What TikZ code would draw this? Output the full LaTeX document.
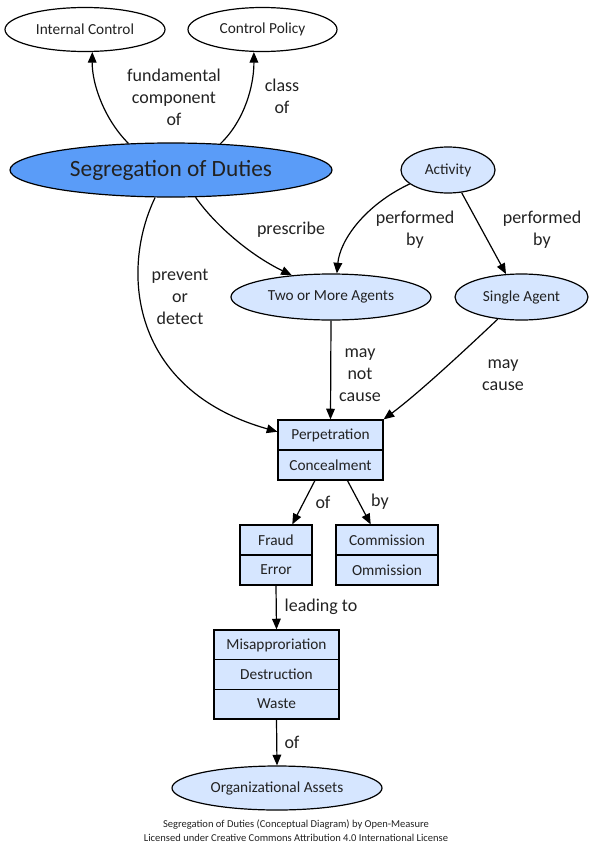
\documentclass[tikz,border=0pt]{standalone}
\usepackage{fontspec}
\setmainfont{Carlito}
\usetikzlibrary{shapes.geometric,arrows.meta,calc}
\definecolor{seg}{HTML}{5A9CF8}
\definecolor{lite}{HTML}{D6E6FF}
\definecolor{txt}{HTML}{222222}
\begin{document}
\begin{tikzpicture}[x=0.75pt,y=-0.75pt,
  every node/.style={text=txt},
  oval/.style={ellipse,draw,line width=0.9pt,inner sep=0pt,font=\fontsize{11.5}{13}\selectfont},
  recbox/.style={rectangle,draw,line width=0.9pt,fill=lite,inner sep=0pt},
  celltext/.style={font=\fontsize{11.5}{13}\selectfont,inner sep=0pt},
  elabel/.style={align=center,font=\fontsize{13.5}{16.5}\selectfont,inner sep=0pt},
  conn/.style={line width=0.9pt,-{Triangle[length=8pt,width=6.5pt]}},
  divider/.style={line width=0.9pt}]
\useasboundingbox (0,0) rectangle (595,853);
% nodes
\node[oval,fill=white,minimum width=120pt,minimum height=33pt] (ic) at (85,29.5) {Internal Control};
\node[oval,fill=white,minimum width=111.75pt,minimum height=33pt] (cp) at (262.5,29.5) {Control Policy};
\node[oval,fill=seg,minimum width=241.5pt,minimum height=40.5pt,font=\fontsize{17.5}{20}\selectfont] (seg) at (171,170) {Segregation of Duties};
\node[oval,fill=lite,minimum width=70.5pt,minimum height=34.5pt] (act) at (448,170) {Activity};
\node[oval,fill=lite,minimum width=150pt,minimum height=34.5pt] (two) at (331,297) {Two or More Agents};
\node[oval,fill=lite,minimum width=99.75pt,minimum height=34.5pt] (single) at (521.5,297) {Single Agent};
\node[oval,fill=lite,minimum width=157.5pt,minimum height=33pt] (org) at (277,788) {Organizational Assets};
% records
\node[recbox,minimum width=78.75pt,minimum height=45pt] (perp) at (330.5,450) {};
\draw[divider] (perp.west) -- (perp.east);
\node[celltext] (perpa) at (330.5,435) {Perpetration};
\node[celltext] (perpb) at (330.5,465) {Concealment};
\node[recbox,minimum width=54pt,minimum height=45pt] (fraud) at (276,555) {};
\draw[divider] (fraud.west) -- (fraud.east);
\node[celltext] (frauda) at (276,540) {Fraud};
\node[celltext] (fraudb) at (276,570) {Error};
\node[recbox,minimum width=76.5pt,minimum height=45pt] (comm) at (387,555) {};
\draw[divider] (comm.west) -- (comm.east);
\node[celltext] (comma) at (387,540) {Commission};
\node[celltext] (commb) at (387,570) {Ommission};
\node[recbox,minimum width=93.75pt,minimum height=66.75pt] (mis) at (276.5,674.5) {};
\draw[divider] ($(mis.north west)!1/3!(mis.south west)$) -- ($(mis.north east)!1/3!(mis.south east)$);
\draw[divider] ($(mis.north west)!2/3!(mis.south west)$) -- ($(mis.north east)!2/3!(mis.south east)$);
\node[celltext] (misa) at (276.5,645) {Misapproriation};
\node[celltext] (misb) at (276.5,674.5) {Destruction};
\node[celltext] (misc) at (276.5,704) {Waste};
% connectors
\draw[conn] (seg.148) .. controls (105,120) and (92,85) .. (ic.-72);
\draw[conn] (seg.28) .. controls (245,120) and (254,85) .. (cp.-111);
\draw[conn] (seg.-48) .. controls (215,225) and (250,255) .. (two.151);
\draw[conn] (seg.240) .. controls (120,270) and (130,390) .. (perp.161);
\draw[conn] (act.200) .. controls (365,205) and (340,240) .. (two.76);
\draw[conn] (act.-59) -- (single.124);
\draw[conn] (two.south) -- (perp.north);
\draw[conn] (single.223) .. controls (465,350) and (420,392) .. (perp.north east);
\draw[conn] (perp.243) -- (fraud.62);
\draw[conn] (perp.-61) -- (comm.118);
\draw[conn] (fraud.south) -- (mis.north);
\draw[conn] (mis.south) -- (org.north);
% labels
\node[elabel] (l1) at (174,97) {fundamental\\component\\of};
\node[elabel] (l2) at (282,96) {class\\of};
\node[elabel] (l3) at (291,230) {prescribe};
\node[elabel] (l4) at (180,297) {prevent\\or\\detect};
\node[elabel] (l5) at (415,230) {performed\\by};
\node[elabel] (l6) at (542,230) {performed\\by};
\node[elabel] (l7) at (360,375) {may\\not\\cause};
\node[elabel] (l8) at (503,375) {may\\cause};
\node[elabel] (l9) at (323,502) {of};
\node[elabel] (l10) at (380,502) {by};
\node[elabel] (l11) at (321,607) {leading to};
\node[elabel] (l12) at (292,742) {of};
\node[align=center,font=\fontsize{7.9}{10.5}\selectfont,inner sep=0pt] (foot) at (296,830.5) {Segregation of Duties (Conceptual Diagram) by Open-Measure\\Licensed under Creative Commons Attribution 4.0 International License};
\end{tikzpicture}
\end{document}
